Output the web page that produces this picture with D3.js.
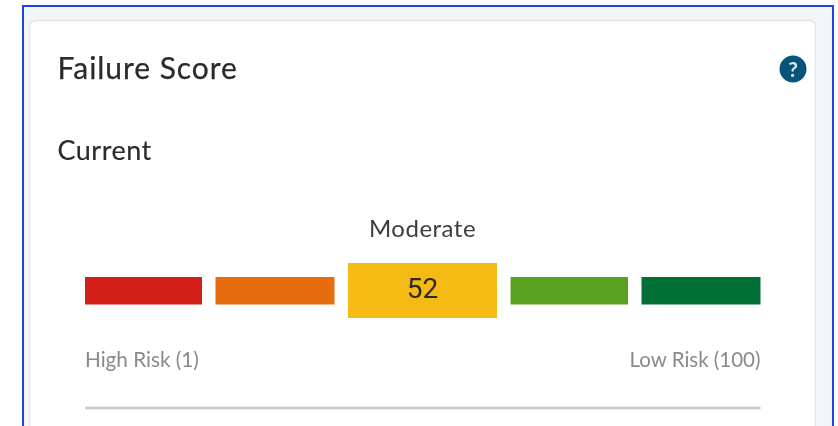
<!DOCTYPE html>
<html>
<head>
<meta charset="utf-8">
<script src="https://cdn.jsdelivr.net/npm/d3@7"></script>
<title>Failure Score</title>
<style>
  html, body{ margin: 0; padding: 0; background: #fff; overflow: hidden; }
  svg{ display: block; filter: blur(0.45px); }
  text{ font-family: Lato, sans-serif; }
</style>
</head>
<body>
<script>
var title = "Failure Score",
    subtitle = "Current",
    rating = "Moderate",
    score = 52,
    lowLabel = "High Risk (1)",
    highLabel = "Low Risk (100)";

var bands = ["severe", "high", "moderate", "low", "minimal"],
    bandWeights = [1, 1.017, 1.274, 1.004, 1.017],
    bandColors = ["#d21f17", "#e66c0e", "#f5bb14", "#58a11e", "#027034"],
    activeBand = "moderate";

var w = 838, h = 426,
    gap = 13.5;

var svg = d3.select("body").append("svg")
    .attr("width", w)
    .attr("height", h);

// outer frame + grey panel + card
svg.append("rect")
    .attr("x", 23).attr("y", 6)
    .attr("width", 810).attr("height", h)
    .attr("fill", "#f4f5f7")
    .attr("stroke", "#1c46e8")
    .attr("stroke-width", 2);

svg.append("rect")
    .attr("x", 29.5).attr("y", 20.5)
    .attr("width", 786).attr("height", h)
    .attr("rx", 6)
    .attr("fill", "#fff")
    .attr("stroke", "#e4e5e8")
    .attr("stroke-width", 1.4);

svg.append("text")
    .attr("x", 57.5).attr("y", 79)
    .attr("font-size", 30)
    .attr("letter-spacing", 0.95)
    .attr("fill", "#2b2b2b")
    .attr("stroke", "#2b2b2b")
    .attr("stroke-width", 0.25)
    .text(title);

svg.append("text")
    .attr("x", 57.5).attr("y", 160)
    .attr("font-size", 27)
    .attr("letter-spacing", 0.5)
    .attr("fill", "#2b2b2b")
    .attr("stroke", "#2b2b2b")
    .attr("stroke-width", 0.15)
    .text(subtitle);

// help icon
var help = svg.append("g").attr("transform", "translate(793,69)");
help.append("circle").attr("r", 13.5).attr("fill", "#05557a");
help.append("text")
    .attr("text-anchor", "middle")
    .attr("y", 7.5)
    .attr("font-size", 21)
    .attr("font-weight", 700)
    .attr("fill", "#d9e6ec")
    .text("?");

// score bar: bands run along a cumulative scale
var cum = Array.from(d3.cumsum(bandWeights)),
    x = d3.scaleLinear()
      .domain([0, d3.sum(bandWeights)])
      .range([0, 675.5 - gap * (bands.length - 1)]);

function bandX(i){ return 85 + x(i ? cum[i - 1] : 0) + i * gap; }

svg.append("g").selectAll("rect")
    .data(bands)
  .enter().append("rect")
    .attr("x", function(d, i){ return bandX(i); })
    .attr("y", function(d){ return d == activeBand ? 263 : 277; })
    .attr("width", function(d, i){ return x(bandWeights[i]); })
    .attr("height", function(d){ return d == activeBand ? 55 : 27.5; })
    .attr("fill", function(d, i){ return bandColors[i]; });

var ai = bands.indexOf(activeBand),
    cx = bandX(ai) + x(bandWeights[ai]) / 2;

svg.append("text")
    .attr("x", cx).attr("y", 298)
    .attr("text-anchor", "middle")
    .style("font-family", "Roboto, sans-serif")
    .attr("font-size", 28)
    .attr("fill", "#2b2a26")
    .text(score);

svg.append("text")
    .attr("x", cx).attr("y", 237)
    .attr("text-anchor", "middle")
    .attr("font-size", 24)
    .attr("letter-spacing", 0.5)
    .attr("fill", "#3d3d3d")
    .text(rating);

svg.append("text")
    .attr("x", 85).attr("y", 367)
    .attr("font-size", 20.7)
    .attr("fill", "#8a8a8a")
    .text(lowLabel);

svg.append("text")
    .attr("x", 760.5).attr("y", 367)
    .attr("text-anchor", "end")
    .attr("font-size", 20.5)
    .attr("fill", "#8a8a8a")
    .text(highLabel);

svg.append("rect")
    .attr("x", 85).attr("y", 406.5)
    .attr("width", 675.5).attr("height", 3)
    .attr("fill", "#cfcfcf");
</script>
</body>
</html>
